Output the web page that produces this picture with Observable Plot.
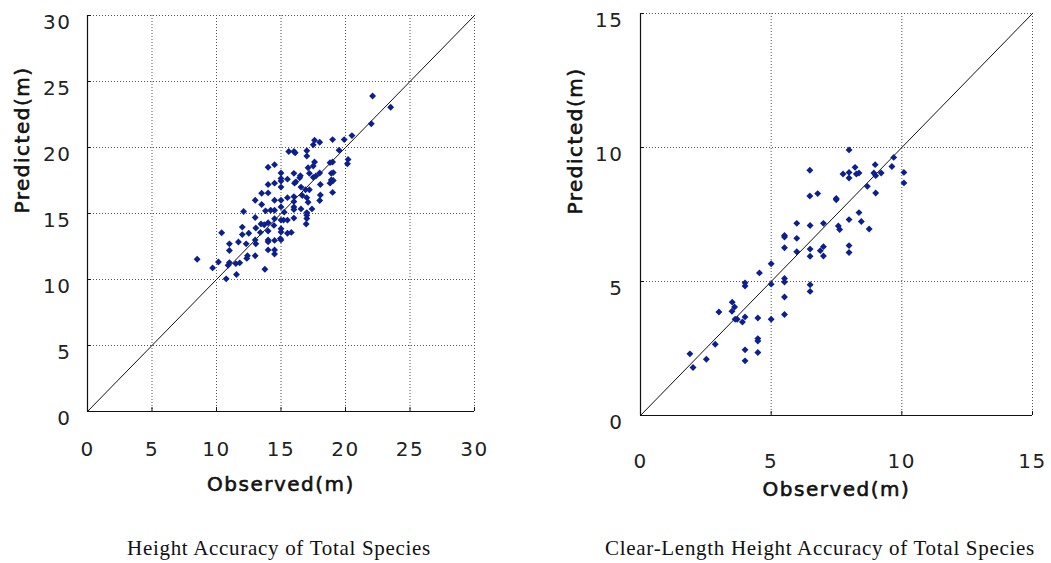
<!DOCTYPE html>
<html>
<head>
<meta charset="utf-8">
<script src="https://cdn.jsdelivr.net/npm/d3@7"></script>
<script src="https://cdn.jsdelivr.net/npm/@observablehq/plot@0.6"></script>
<style>
  html, body { margin: 0; padding: 0; background: #fff; }
  #wrap { position: relative; width: 1051px; height: 563px; overflow: hidden; }
  .panel { position: absolute; top: 0; }
  .title { position: absolute; top: 536px; font-family: "Liberation Serif", "Times New Roman", serif; font-size: 21px; letter-spacing: 0.7px; color: #111; white-space: nowrap; transform: translateX(-50%); }
</style>
</head>
<body>
<div id="wrap">
  <div class="panel" id="p1" style="left:0px"></div>
  <div class="panel" id="p2" style="left:525px"></div>
  <div class="title" id="t1" style="left:279px"></div>
  <div class="title" id="t2" style="left:820px"></div>
</div>
<script>
// ---- Data ----
const titles = ["Height Accuracy of Total Species", "Clear-Length Height Accuracy of Total Species"];
const xLabel = "Observed(m)";
const yLabel = "Predicted(m)";

const heightTicks = [0, 5, 10, 15, 20, 25, 30];
const clearTicks = [0, 5, 10, 15];

const heightObs = [22.1, 23.5, 22.0, 20.5, 19.9, 19.5, 19.0, 18.0, 17.6, 17.5, 17.0, 17.0, 16.0, 16.1, 15.6, 14.5, 14.0, 20.2, 20.15, 19.0,
  18.8, 17.6, 17.5, 17.1, 15.0, 15.0, 15.0, 15.0, 16.0, 16.5, 16.45, 16.15, 16.05, 15.5, 14.5, 14.0, 17.2, 17.5, 17.7, 18.0,
  18.9, 19.05, 18.9, 18.8, 19.05, 18.05, 16.55, 16.9, 17.2, 19.0, 18.05, 18.0, 17.0, 17.1, 16.65, 16.0, 15.5, 15.0, 15.0, 14.0,
  13.5, 14.5, 13.0, 13.5, 16.0, 16.0, 16.0, 16.55, 17.4, 17.0, 17.0, 17.0, 16.95, 16.0, 15.5, 15.2, 15.0, 15.25, 14.5, 14.2,
  13.8, 14.5, 14.45, 14.0, 13.7, 13.45, 13.0, 12.1, 13.05, 12.0, 12.5, 12.0, 13.4, 14.0, 14.0, 14.0, 15.0, 15.0, 14.95, 15.0,
  15.5, 15.8, 14.5, 13.0, 13.05, 12.3, 11.7, 11.0, 11.0, 10.4, 14.0, 14.5, 14.5, 13.0, 12.4, 12.35, 11.8, 11.5, 11.0, 10.9,
  10.15, 9.7, 8.5, 13.75, 11.55, 10.75];
const heightPred = [23.9, 23.05, 21.8, 20.9, 20.6, 19.8, 20.6, 20.4, 20.55, 20.2, 19.75, 19.35, 19.7, 19.6, 19.7, 18.7, 18.5, 19.1, 18.77, 18.9,
  18.85, 18.9, 18.6, 18.47, 18.07, 17.66, 17.46, 17.0, 18.04, 17.86, 17.7, 17.4, 17.3, 17.6, 17.3, 17.2, 18.04, 17.74, 17.84, 18.07,
  18.04, 18.1, 17.54, 17.3, 17.5, 17.2, 17.0, 16.8, 16.8, 16.6, 16.4, 15.98, 16.2, 15.85, 16.36, 16.28, 16.2, 16.0, 15.5, 16.56,
  16.53, 16.0, 16.0, 15.68, 15.9, 15.5, 15.3, 15.35, 15.35, 15.07, 14.87, 14.62, 14.2, 14.65, 14.5, 14.5, 14.5, 15.1, 15.25, 15.25,
  15.2, 14.6, 14.1, 14.3, 14.15, 14.2, 14.7, 15.15, 13.9, 13.97, 13.5, 13.4, 13.57, 13.67, 13.0, 12.86, 13.84, 13.6, 13.1, 13.0,
  13.5, 13.57, 12.96, 13.0, 12.7, 12.7, 12.84, 12.7, 12.2, 13.54, 12.24, 12.24, 11.93, 11.8, 11.8, 11.6, 11.26, 11.2, 11.28, 11.08,
  11.33, 10.88, 11.53, 10.78, 10.38, 10.05];

const clearObs = [7.98, 6.48, 7.75, 7.98, 7.98, 8.21, 8.26, 8.36, 8.98, 8.93, 9.0, 9.21, 9.69, 9.62, 10.08, 10.08, 8.68, 9.0, 6.48, 6.78,
  7.49, 7.49, 8.36, 8.45, 8.75, 7.98, 7.57, 7.62, 7.0, 6.49, 5.98, 5.51, 5.51, 5.98, 5.51, 5.98, 6.49, 6.49, 6.88, 7.0,
  7.0, 7.98, 7.98, 5.0, 4.55, 5.51, 5.51, 5.0, 4.0, 4.0, 6.49, 6.49, 5.51, 5.51, 5.0, 4.49, 4.0, 3.9, 3.7, 3.62,
  3.51, 3.6, 3.5, 3.0, 4.49, 4.49, 4.49, 4.0, 4.0, 2.86, 2.52, 1.89, 2.01];
const clearPred = [9.91, 9.15, 9.01, 9.07, 8.86, 9.26, 9.01, 9.05, 9.36, 9.05, 8.95, 9.05, 9.63, 9.29, 9.07, 8.68, 8.55, 8.3, 8.19, 8.28,
  8.1, 8.05, 7.57, 7.24, 6.96, 7.31, 7.07, 6.94, 7.17, 7.09, 7.17, 6.72, 6.66, 6.61, 6.26, 6.11, 6.21, 5.94, 6.15, 6.3,
  5.95, 6.34, 6.08, 5.66, 5.32, 5.11, 4.98, 4.9, 4.95, 4.83, 4.88, 4.63, 4.42, 3.77, 3.59, 3.64, 3.68, 3.49, 3.59, 3.59,
  4.23, 4.05, 3.89, 3.86, 2.87, 2.78, 2.35, 2.45, 2.04, 2.66, 2.1, 2.3, 1.79];

// ---- Chart builder ----
const FONT = "'DejaVu Sans', 'Noto Sans', sans-serif";
function panel(obs, pred, ticks, cfg) {
  const pts = obs.map((o, i) => ({obs: o, pred: pred[i]}));
  const lo = ticks[0], hi = ticks[ticks.length - 1];
  const grid = ticks.slice(1);
  const tickLen = cfg.tickLen;
  return Plot.plot({
    width: cfg.width,
    height: 520,
    marginLeft: cfg.ml, marginRight: cfg.mr, marginTop: cfg.mt, marginBottom: cfg.mb,
    style: {fontFamily: FONT, fontSize: "20px", color: "#222", background: "white", overflow: "visible", letterSpacing: "1.5px"},
    x: {domain: [lo, hi]},
    y: {domain: [lo, hi]},
    marks: [
      Plot.ruleX(grid, {stroke: "#555", strokeDasharray: "1,2", strokeWidth: 1}),
      Plot.ruleY(grid, {stroke: "#555", strokeDasharray: "1,2", strokeWidth: 1}),
      Plot.ruleX(grid, {y1: lo, y2: lo + tickLen, stroke: "#111"}),
      Plot.ruleY(grid, {x1: lo, x2: lo + tickLen, stroke: "#111"}),
      Plot.ruleX([lo], {stroke: "#111", strokeWidth: 1.2}),
      Plot.ruleY([lo], {stroke: "#111", strokeWidth: 1.2}),
      Plot.axisX({ticks: ticks, tickSize: 0, tickPadding: cfg.xPad, label: null, fontSize: 20, fill: "#222"}),
      Plot.axisY({ticks: ticks, tickSize: 0, tickPadding: cfg.yPad, dy: 7, label: null, fontSize: 20, fill: "#222"}),
      Plot.line([lo, hi], {x: d => d, y: d => d, stroke: "#111", strokeWidth: 1}),
      Plot.dot(pts, {x: "obs", y: "pred", symbol: "diamond2", r: 3.1, fill: "#0c1f8f", stroke: null}),
      Plot.text([xLabel], {text: d => d, frameAnchor: "bottom", dy: cfg.xlab, fontSize: 20, fill: "#111", stroke: "#111", strokeWidth: 0.6}),
      Plot.text([yLabel], {text: d => d, frameAnchor: "left", dx: -65, rotate: -90, fontSize: 20, fill: "#111", stroke: "#111", strokeWidth: 0.6})
    ]
  });
}

document.getElementById("p1").appendChild(panel(heightObs, heightPred, heightTicks,
  {width: 525, ml: 87, mr: 51, mt: 15, mb: 109, xPad: 30, yPad: 16, xlab: 79, tickLen: 0.3}));
document.getElementById("p2").appendChild(panel(clearObs, clearPred, clearTicks,
  {width: 526, ml: 115, mr: 19, mt: 13, mb: 105, xPad: 38, yPad: 17, xlab: 80, tickLen: 0.15}));
document.getElementById("t1").textContent = titles[0];
document.getElementById("t2").textContent = titles[1];
</script>
</body>
</html>
